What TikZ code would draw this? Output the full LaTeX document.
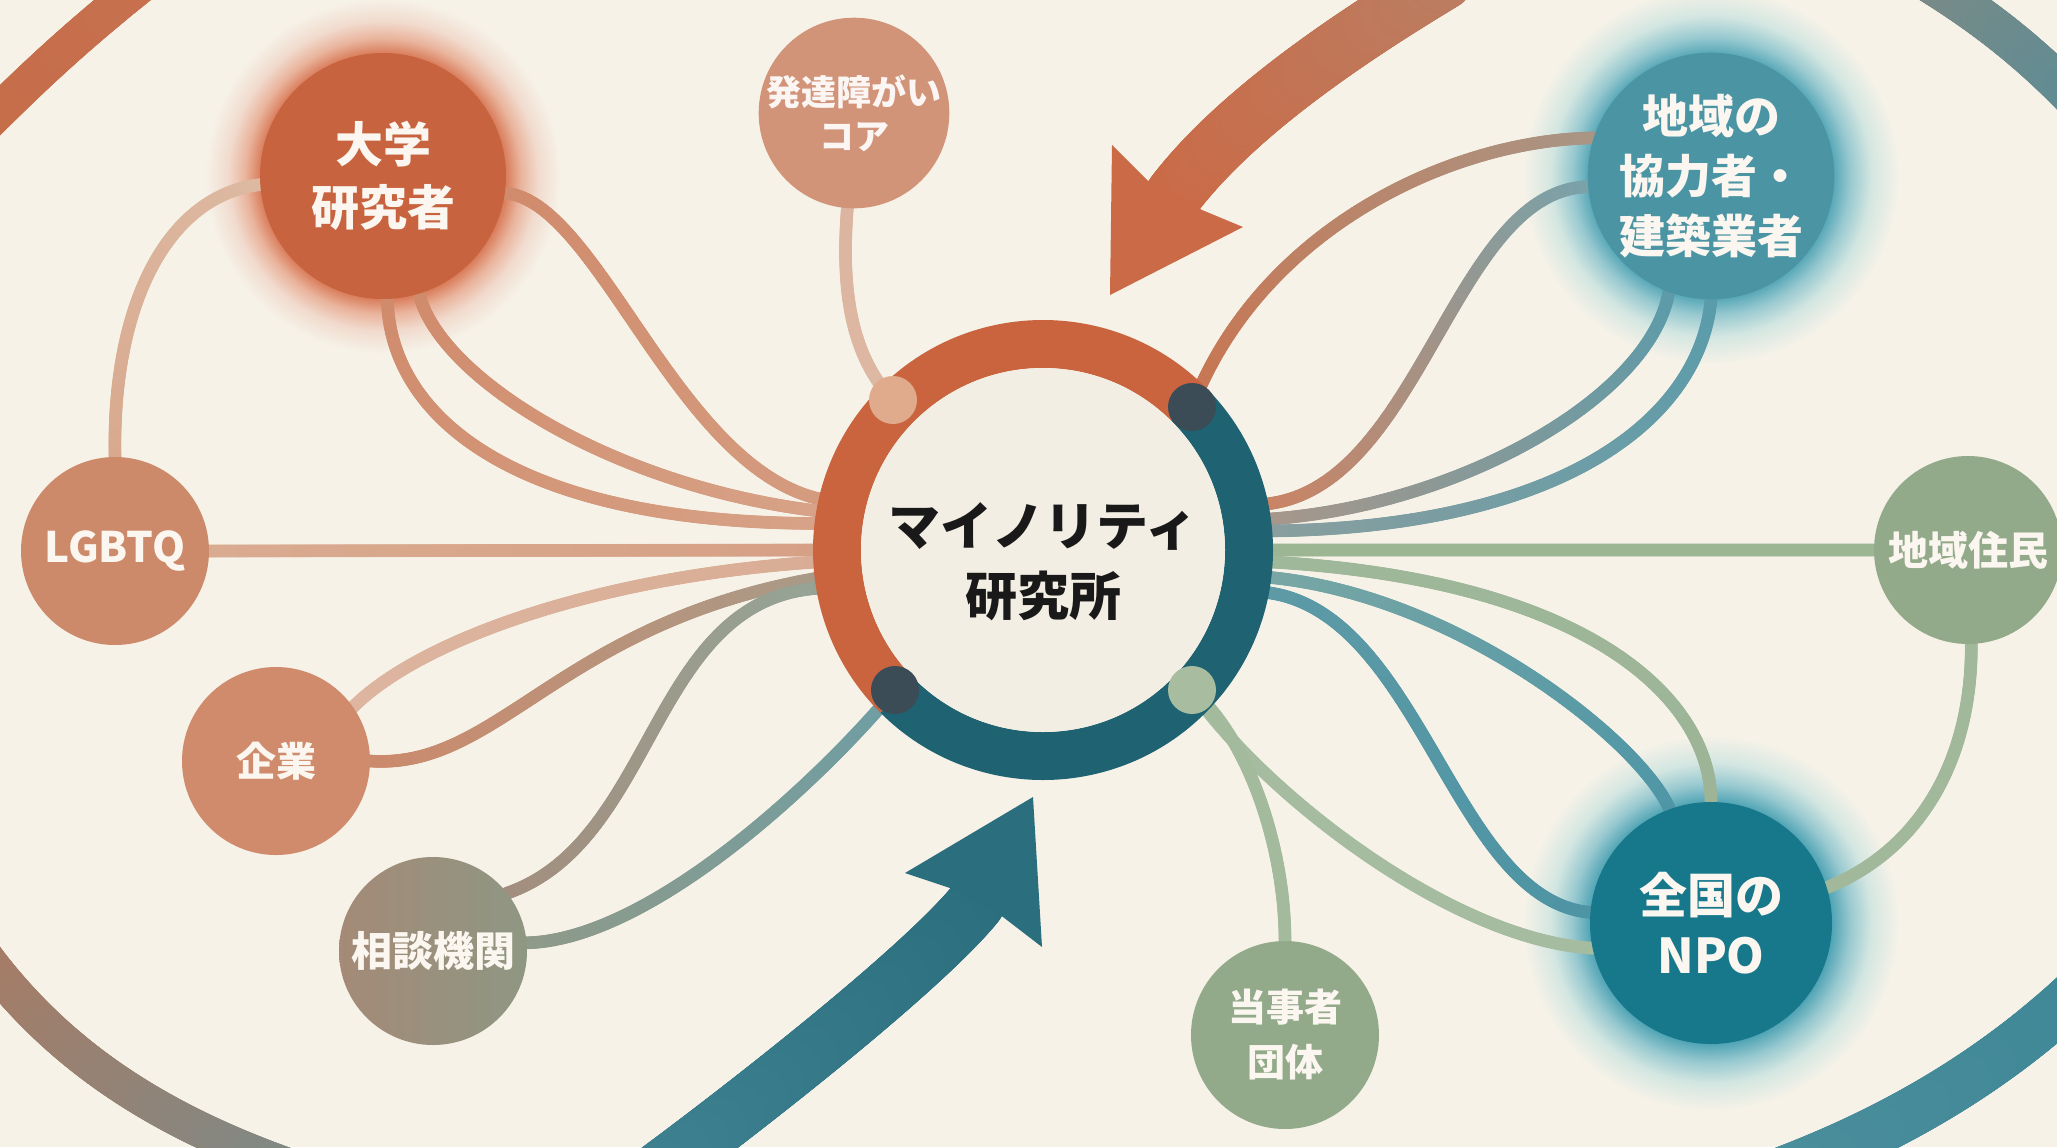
\documentclass[tikz,border=0pt]{standalone}
\usepackage{fontspec}
\newfontfamily\jp{Noto Sans CJK JP}
\usetikzlibrary{decorations.markings}
\definecolor{bgc}{HTML}{F6F2E8}
\definecolor{diskc}{HTML}{F3EEE3}
\definecolor{ringO}{HTML}{C9643E}
\definecolor{ringT}{HTML}{1F6272}
\definecolor{dotDark}{HTML}{3B4C57}
\definecolor{dotPeach}{HTML}{E0AA8C}
\definecolor{dotSage}{HTML}{A8BDA0}
\definecolor{cDaigaku}{HTML}{C8633F}
\definecolor{cHattatsu}{HTML}{D29478}
\definecolor{cLgbt}{HTML}{CD8A6A}
\definecolor{cKigyo}{HTML}{CF8B6B}
\definecolor{cSodanL}{HTML}{A48A77}
\definecolor{cSodanR}{HTML}{8E9783}
\definecolor{cSage}{HTML}{93AA8A}
\definecolor{cNPO}{HTML}{17788B}
\definecolor{cKyoryoku}{HTML}{4B94A4}
\definecolor{glowOc}{HTML}{D97C5A}
\definecolor{glowTc}{HTML}{4FA3B4}
\definecolor{glowOm}{HTML}{E9B39B}
\definecolor{glowOl}{HTML}{F1DBCE}
\definecolor{glowTm}{HTML}{98C9D0}
\definecolor{glowTl}{HTML}{D3E6E1}
\definecolor{txtc}{HTML}{FBF7F0}
\definecolor{arrO}{HTML}{CB6A46}
\definecolor{arrT}{HTML}{2B6E7E}
\pgfdeclareradialshading{glowO}{\pgfpointorigin}{color(0bp)=(glowOc); color(17.2bp)=(glowOc); color(19.3bp)=(glowOm); color(21.8bp)=(glowOl); color(25bp)=(bgc); color(50bp)=(bgc)}
\pgfdeclareradialshading{glowT}{\pgfpointorigin}{color(0bp)=(glowTc); color(16bp)=(glowTc); color(18.5bp)=(glowTm); color(21.3bp)=(glowTl); color(25bp)=(bgc); color(50bp)=(bgc)}
\pgfdeclarelayer{bglayer}
\pgfdeclarelayer{linelayer}
\pgfsetlayers{bglayer,linelayer,main}
\tikzset{
  gradline/.style n args={3}{postaction={decorate,decoration={markings,
      mark=between positions 0 and 1 step 1pt with {%
        \definecolor{gradA}{HTML}{#1}\definecolor{gradB}{HTML}{#2}%
        \pgfmathtruncatemacro\gpct{\pgfkeysvalueof{/pgf/decoration/mark info/distance from start}/\pgfdecoratedpathlength*100}%
        \pgfsetfillcolor{gradB!\gpct!gradA}%
        \pgfpathcircle{\pgfpointorigin}{#3}%
        \pgfusepath{fill}%
      }}}},
  conn/.style 2 args={gradline={#1}{#2}{3.2pt}},
  bub/.style={circle, inner sep=0pt, outer sep=0pt, text=txtc, align=center},
  dotn/.style={circle, inner sep=0pt, outer sep=0pt, minimum size=24pt},
}
\begin{document}
\begin{tikzpicture}[x=0.5pt,y=-0.5pt]
\useasboundingbox (0,0) rectangle (2057,1147);
% ---------- nodes ----------
\node[circle, minimum size=218pt, inner sep=0pt, outer sep=0pt] (hub) at (1043,550) {};
\node[bub, fill=cDaigaku, minimum size=123pt, font=\jp\bfseries\fontsize{24}{31.5}\selectfont] (daigaku) at (383,176) {大学\\研究者};
\node[bub, fill=cHattatsu, minimum size=94pt, text=white!92!cHattatsu, font=\jp\bfseries\fontsize{17.5}{22}\selectfont] (hattatsu) at (854,113) {発達障がい\\コア};
\node[bub, fill=cLgbt, minimum size=94pt, font=\jp\bfseries\fontsize{21}{26}\selectfont] (lgbtq) at (115,551) {LGBTQ};
\node[bub, fill=cKigyo, minimum size=94pt, font=\jp\bfseries\fontsize{20}{26}\selectfont] (kigyo) at (276,761) {企業};
\node[bub, left color=cSodanL, right color=cSodanR, minimum size=94pt, font=\jp\bfseries\fontsize{20.5}{26}\selectfont] (sodan) at (433,951) {相談機関};
\node[bub, fill=cSage, minimum size=94pt, font=\jp\bfseries\fontsize{19}{27.5}\selectfont] (tojisha) at (1285,1035) {当事者\\団体};
\node[bub, fill=cNPO, minimum size=121pt, font=\jp\bfseries\fontsize{24}{30}\selectfont] (npo) at (1711,923) {全国の\\NPO};
\node[bub, fill=cSage, minimum size=94pt, font=\jp\bfseries\fontsize{20}{26}\selectfont] (jumin) at (1968,550) {地域住民};
\node[bub, fill=cKyoryoku, minimum size=121pt, font=\jp\bfseries\fontsize{23}{30}\selectfont] (kyoryoku) at (1711,176) {地域の\\協力者・\\建築業者};
% ---------- central ring ----------
\draw[ringO, line width=24pt] (hub.center) ++(-45:206) arc[start angle=-45, end angle=-225, radius=206];
\draw[ringT, line width=24pt] (hub.center) ++(135:206) arc[start angle=135, end angle=-45, radius=206];
\fill[diskc] (hub.center) circle (182);
\node[dotn, fill=dotPeach] (dUL) at (893,400) {};
\node[dotn, fill=dotDark] (dUR) at (1192,407) {};
\node[dotn, fill=dotDark] (dLL) at (895,690) {};
\node[dotn, fill=dotSage] (dLR) at (1192,690) {};
\node[font=\jp\bfseries\fontsize{26}{35}\selectfont, align=center, text=black!90] (title) at (1043,562) {マイノリティ\\研究所};
% ---------- background + glows ----------
\begin{pgfonlayer}{bglayer}
\fill[bgc] (0,0) rectangle (2057,1147);
\shade[shading=glowO] (daigaku.center) circle (178);
\shade[shading=glowT] (kyoryoku.center) circle (188);
\shade[shading=glowT] (npo.center) circle (188);
\end{pgfonlayer}
% ---------- connectors, outer arcs, arrows ----------
\begin{pgfonlayer}{linelayer}
% left side
\path[conn={D8A98E}{DDB9A2}] (lgbtq.90) .. controls (112,300) and (170,195) .. (daigaku.184);
\path[conn={D9AB90}{D6A085}] (lgbtq.0) -- (hub.180);
\path[conn={D08B6C}{D7A388}] (daigaku.-88) .. controls (390,420) and (520,525) .. (hub.173.4);
\path[conn={D08B6C}{D7A388}] (daigaku.-73) .. controls (440,380) and (620,490) .. (hub.170.2);
\path[conn={D08B6C}{D59C80}] (daigaku.-8) .. controls (600,200) and (680,480) .. (hub.167.5);
\path[conn={DDB5A0}{D9AD95}] (kigyo.35) .. controls (420,640) and (600,575) .. (hub.183.9);
\path[conn={CC8A6C}{A89A88}] (kigyo.0) .. controls (500,770) and (560,620) .. (hub.187.4);
\path[conn={A38E7E}{95A496}] (sodan.38) .. controls (660,840) and (650,590) .. (hub.190.6);
\path[conn={8F9A89}{6E9EA4}] (sodan.5) .. controls (650,940) and (820,780) .. (dLL.center);
\path[conn={DCB5A0}{DDB8A2}] (hattatsu.-94) .. controls (840,300) and (855,360) .. (dUL.center);
% right side
\path[conn={A99585}{C97550}] (kyoryoku.162) .. controls (1450,140) and (1260,230) .. (dUR.center);
\path[conn={79A2AA}{CC8363}] (kyoryoku.185) .. controls (1450,190) and (1420,500) .. (hub.12.45);
\path[conn={5B9BAA}{A9978A}] (kyoryoku.-110) .. controls (1650,400) and (1450,510) .. (hub.8.7);
\path[conn={5A9CAB}{8A9E9E}] (kyoryoku.-90) .. controls (1700,420) and (1560,530) .. (hub.5.3);
\path[conn={9CB593}{9CB593}] (hub.0) -- (jumin.180);
\path[conn={A2B89B}{A2B89B}] (jumin.-88) .. controls (1972,760) and (1920,850) .. (npo.17);
\path[conn={9DB497}{9FB89A}] (npo.90) .. controls (1711,700) and (1590,578) .. (hub.-3.9);
\path[conn={4E96A6}{7AA7A5}] (npo.110) .. controls (1640,740) and (1450,590) .. (hub.-7.9);
\path[conn={4D94A4}{5E9AA6}] (npo.175) .. controls (1450,900) and (1420,600) .. (hub.-11.4);
\path[conn={A6BCA0}{A6BCA0}] (npo.192) .. controls (1450,940) and (1260,790) .. (dLR.center);
\path[conn={A4BA9D}{A4BA9D}] (tojisha.90) .. controls (1285,850) and (1250,740) .. (dLR.center);
% outer arcs
\path[gradline={C56C48}{C8714F}{9pt}] (-30,140) .. controls (20,90) and (70,40) .. (160,-30);
\path[gradline={A87B64}{7C8B89}{9pt}] (-20,950) .. controls (60,1060) and (170,1130) .. (330,1180);
\path[gradline={7F8A84}{5F8C94}{10pt}] (1900,-35) .. controls (1960,0) and (2020,40) .. (2085,110);
\path[gradline={3F8797}{4B8E9C}{12.5pt}] (2080,990) .. controls (2000,1065) and (1900,1130) .. (1760,1180);
% top orange arrow
\path[gradline={CB6A46}{BC7C60}{14.5pt}] (1174,195) .. controls (1235,115) and (1345,40) .. (1445,-20);
\fill[arrO] (1110,295) -- (1112,145) -- (1147,180) -- (1202,210) -- (1243,227) -- cycle;
% bottom teal arrow
\path[gradline={2B6E7E}{3E8190}{14.5pt}] (976,903) .. controls (919,973) and (729,1120) .. (640,1185);
\fill[arrT] (1033,797) -- (905,873) -- (950,888) -- (1003,917) -- (1042,947) -- cycle;
\end{pgfonlayer}
\end{tikzpicture}
\end{document}
